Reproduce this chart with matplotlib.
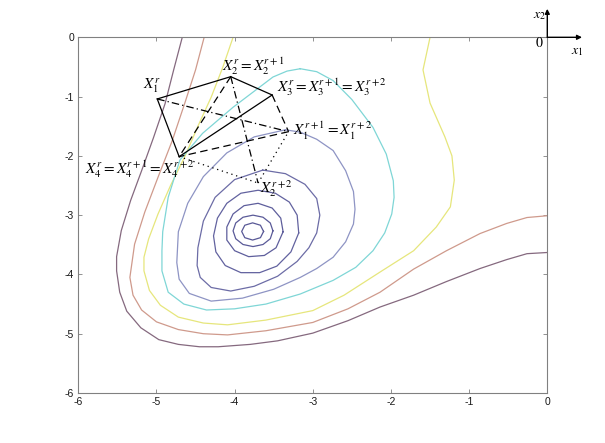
import matplotlib
matplotlib.use("Agg")
import matplotlib.pyplot as plt

plt.rcParams["font.family"] = ["Liberation Sans", "DejaVu Sans"]
plt.rcParams["mathtext.fontset"] = "stix"
plt.rcParams["axes.unicode_minus"] = False

# contour lines (x1, x2), outermost first
lvl_purple = [(-4.67, 0.0), (-4.78, -0.55), (-4.89, -1.12), (-5.04, -1.7), (-5.19, -2.25),
              (-5.33, -2.75), (-5.45, -3.26), (-5.51, -3.7), (-5.51, -3.94), (-5.47, -4.3),
              (-5.38, -4.62), (-5.2, -4.9), (-4.97, -5.1), (-4.72, -5.18), (-4.45, -5.22),
              (-4.21, -5.22), (-3.8, -5.18), (-3.45, -5.12), (-3.0, -4.99), (-2.55, -4.78),
              (-2.14, -4.55), (-1.71, -4.35), (-1.29, -4.12), (-0.86, -3.90), (-0.52, -3.75),
              (-0.26, -3.65), (0.0, -3.63)]
lvl_salmon = [(-4.39, 0.0), (-4.5, -0.55), (-4.64, -1.12), (-4.8, -1.75), (-4.98, -2.36),
              (-5.15, -2.95), (-5.28, -3.49), (-5.34, -4.05), (-5.3, -4.35), (-5.19, -4.6),
              (-5.0, -4.8), (-4.72, -4.93), (-4.4, -5.0), (-4.09, -5.02), (-3.6, -4.95),
              (-3.0, -4.81), (-2.55, -4.58), (-2.14, -4.3), (-1.71, -3.91), (-1.29, -3.6),
              (-0.86, -3.31), (-0.52, -3.14), (-0.26, -3.04), (0.0, -3.01)]
lvl_yellow = [(-4.02, 0.0), (-4.15, -0.5), (-4.30, -1.01), (-4.47, -1.5), (-4.64, -2.02),
              (-4.82, -2.5), (-4.98, -2.98), (-5.1, -3.4), (-5.16, -3.71), (-5.16, -3.94),
              (-5.09, -4.27), (-4.95, -4.52), (-4.72, -4.72), (-4.4, -4.82), (-4.09, -4.85),
              (-3.6, -4.77), (-3.0, -4.61), (-2.6, -4.35), (-2.14, -3.96), (-1.71, -3.6),
              (-1.42, -3.2), (-1.24, -2.86), (-1.19, -2.41), (-1.22, -2.0), (-1.31, -1.68),
              (-1.50, -1.11), (-1.59, -0.55), (-1.50, 0.0)]
lvl_cyan = [(-3.16, -0.53), (-2.95, -0.58), (-2.74, -0.73), (-2.5, -1.05), (-2.23, -1.52),
            (-2.06, -1.97), (-1.97, -2.42), (-1.96, -2.7), (-1.99, -2.98), (-2.08, -3.3),
            (-2.23, -3.6), (-2.45, -3.88), (-2.74, -4.1), (-3.16, -4.33), (-3.6, -4.5),
            (-4.0, -4.58), (-4.36, -4.6), (-4.65, -4.5), (-4.85, -4.3), (-4.93, -3.94),
            (-4.93, -3.6), (-4.92, -3.28), (-4.85, -2.7), (-4.70, -2.07), (-4.41, -1.62),
            (-4.02, -1.18), (-3.68, -0.84), (-3.51, -0.67), (-3.33, -0.57), (-3.16, -0.53)]
lvl_blue = [(-3.35, -1.56), (-3.16, -1.6), (-2.95, -1.72), (-2.74, -1.91), (-2.58, -2.25),
            (-2.48, -2.6), (-2.46, -2.9), (-2.48, -3.15), (-2.58, -3.45), (-2.74, -3.71),
            (-2.95, -3.9), (-3.16, -4.05), (-3.5, -4.25), (-3.9, -4.4), (-4.3, -4.45),
            (-4.58, -4.32), (-4.71, -4.08), (-4.74, -3.8), (-4.72, -3.28), (-4.6, -2.8),
            (-4.4, -2.35), (-4.1, -1.95), (-3.75, -1.68), (-3.35, -1.56)]
lvl_dark = [(-3.64, -2.24), (-3.35, -2.3), (-3.1, -2.48), (-2.95, -2.72), (-2.91, -3.0),
            (-2.95, -3.3), (-3.05, -3.55), (-3.2, -3.78), (-3.45, -4.03), (-3.75, -4.2),
            (-4.05, -4.28), (-4.3, -4.22), (-4.44, -4.05), (-4.48, -3.85), (-4.47, -3.55),
            (-4.4, -3.1), (-4.25, -2.7), (-4.0, -2.4), (-3.64, -2.24)]
lvl_ring4 = [(-3.18, -3.3), (-3.2, -3.0), (-3.3, -2.78), (-3.48, -2.63), (-3.7, -2.58),
             (-3.92, -2.63), (-4.1, -2.8), (-4.22, -3.05), (-4.27, -3.35), (-4.24, -3.62),
             (-4.12, -3.85), (-3.92, -3.97), (-3.68, -3.97), (-3.46, -3.86), (-3.28, -3.62),
             (-3.18, -3.3)]
lvl_ring3 = [(-3.38, -3.28), (-3.41, -3.05), (-3.52, -2.88), (-3.7, -2.8), (-3.88, -2.84),
             (-4.02, -2.98), (-4.10, -3.2), (-4.10, -3.42), (-4.0, -3.6), (-3.82, -3.7),
             (-3.62, -3.68), (-3.47, -3.55), (-3.38, -3.28)]
lvl_ring2 = [(-3.51, -3.265), (-3.544, -3.132), (-3.637, -3.035), (-3.765, -3.0), (-3.893, -3.035),
             (-3.986, -3.132), (-4.02, -3.265), (-3.986, -3.398), (-3.893, -3.495), (-3.765, -3.53),
             (-3.637, -3.495), (-3.544, -3.398), (-3.51, -3.265)]
lvl_ring1 = [(-3.63, -3.275), (-3.67, -3.17), (-3.77, -3.13), (-3.87, -3.17), (-3.91, -3.275),
             (-3.87, -3.38), (-3.77, -3.42), (-3.67, -3.38), (-3.63, -3.275)]

contours = [lvl_purple, lvl_salmon, lvl_yellow, lvl_cyan, lvl_blue, lvl_dark,
            lvl_ring4, lvl_ring3, lvl_ring2, lvl_ring1]
colors = ["#85697f", "#cf9a8c", "#e6e67c", "#7fd6d6", "#8e94c4", "#6c6ca6",
          "#62629f", "#5e5e9c", "#5a5a98", "#585896"]

# complex vertices
X1 = (-4.99, -1.04)
X2 = (-4.05, -0.664)
X3 = (-3.52, -0.973)
X4 = (-4.71, -2.013)
X1_new = (-3.31, -1.592)
X2_new = (-3.70, -2.458)


def seg(ax, a, b, **kw):
    ax.plot([a[0], b[0]], [a[1], b[1]], color="k", **kw)


fig = plt.figure(figsize=(6.05, 4.43), dpi=100)
ax = fig.add_axes([78.3 / 605, 1 - 393 / 443, 469 / 605, 355.7 / 443])

for pts, col in zip(contours, colors):
    xs = [p[0] for p in pts]
    ys = [p[1] for p in pts]
    ax.plot(xs, ys, color=col, lw=0.9)

solid = dict(lw=0.9, ls="-")
dashed = dict(lw=0.9, ls=(0, (6, 3.5)))
dashdot = dict(lw=0.9, ls=(0, (6, 2.5, 1, 2.5)))
dotted = dict(lw=0.9, ls=(0, (1, 3)))

seg(ax, X1, X2, **solid)
seg(ax, X2, X3, **solid)
seg(ax, X3, X4, **solid)
seg(ax, X4, X1, **solid)
seg(ax, X2, X4, **dashed)
seg(ax, X3, X1_new, **dashed)
seg(ax, X1_new, X4, **dashed)
seg(ax, X1, X1_new, **dashdot)
seg(ax, X2, X2_new, **dashdot)
seg(ax, X4, X2_new, **dotted)
seg(ax, X2_new, X1_new, **dotted)

fs = 11
ax.text(-5.06, -0.82, r"$X_1^r$", fontsize=fs, ha="center", va="center")
ax.text(-3.76, -0.48, r"$X_2^r = X_2^{r+1}$", fontsize=fs, ha="center", va="center")
ax.text(-3.46, -0.84, r"$X_3^r = X_3^{r+1} = X_3^{r+2}$", fontsize=fs, ha="left", va="center")
ax.text(-3.25, -1.575, r"$X_1^{r+1} = X_1^{r+2}$", fontsize=fs, ha="left", va="center")
ax.text(-5.91, -2.22, r"$X_4^r = X_4^{r+1} = X_4^{r+2}$", fontsize=fs, ha="left", va="center")
ax.text(-3.68, -2.56, r"$X_2^{r+2}$", fontsize=fs, ha="left", va="center")

ax.set_xlim(-6, 0)
ax.set_ylim(-6, 0)
ax.set_xticks(range(-6, 1))
ax.set_yticks(range(-6, 1))
ax.tick_params(direction="in", length=3.2, width=0.6, color="#808080",
               labelsize=7.5, labelcolor="#1a1a1a", top=True, right=True, pad=3)
for sp in ax.spines.values():
    sp.set_color("#808080")
    sp.set_linewidth(0.8)

# coordinate cross at the top right corner
arrow = dict(arrowstyle="-|>", color="k", lw=1.0, mutation_scale=7, shrinkA=0, shrinkB=0)
ax.annotate("", xy=(1, 1.08), xytext=(1, 1), xycoords="axes fraction",
            arrowprops=arrow, annotation_clip=False)
ax.annotate("", xy=(1.074, 1), xytext=(1, 1), xycoords="axes fraction",
            arrowprops=arrow, annotation_clip=False)
ax.text(0.983, 1.063, r"$x_2$", transform=ax.transAxes, fontsize=10, ha="center", va="center")
ax.text(1.064, 0.962, r"$x_1$", transform=ax.transAxes, fontsize=10, ha="center", va="center")
ax.text(0.982, 0.985, r"$\mathrm{0}$", transform=ax.transAxes, fontsize=10, ha="center", va="center")

fig.savefig("out.png", dpi=100)
